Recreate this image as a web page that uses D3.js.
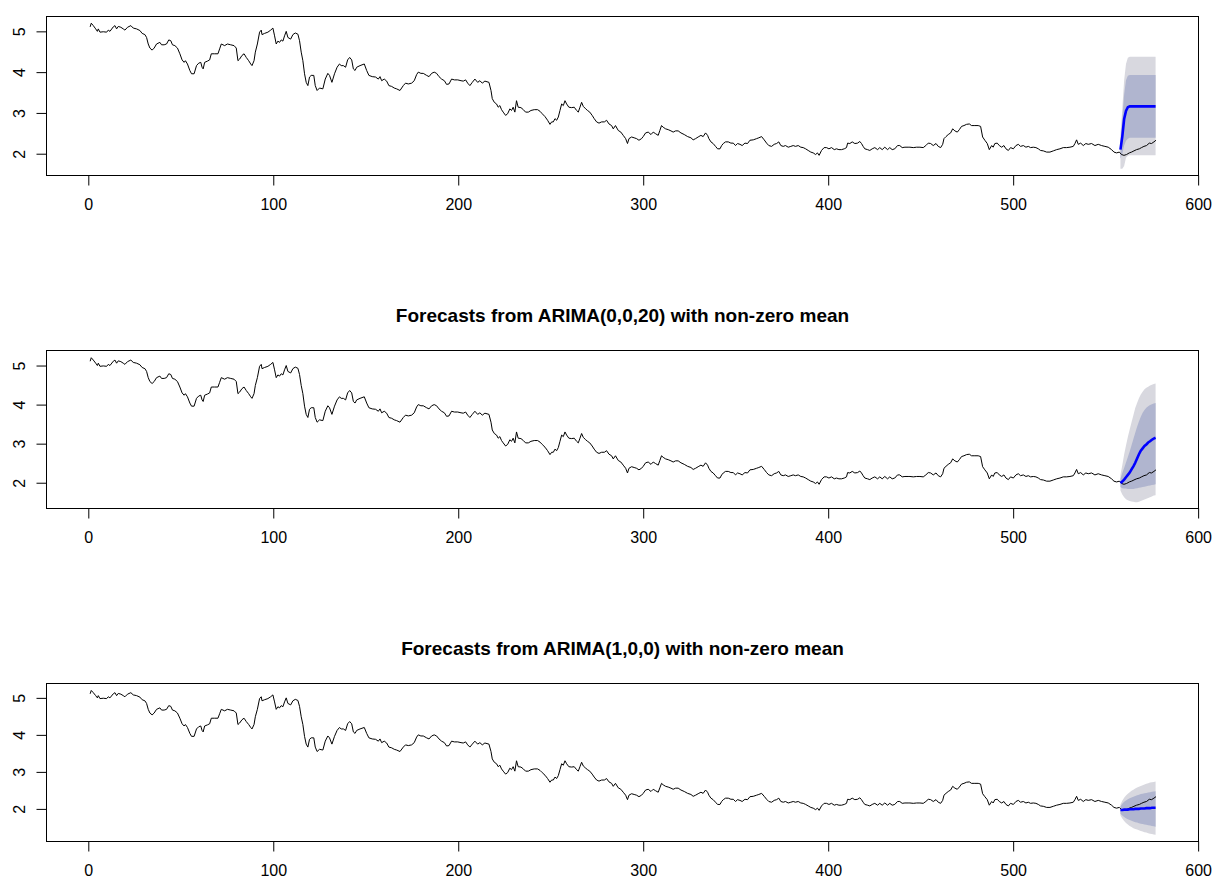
<!DOCTYPE html>
<html>
<head>
<meta charset="utf-8">
<script src="https://d3js.org/d3.v7.min.js"></script>
<style>
  body { margin: 0; background: #fff; }
  svg text { font-family: "Liberation Sans", Arial, sans-serif; }
</style>
</head>
<body>
<script>
var obsSeg1 = [[1,5.11],[1.6,5.20],[2.7,5.14],[4.0,5.06],[4.9,5.00],[5.4,5.06],[6.3,4.98],[8.1,4.99],[9.9,4.98],[10.8,5.03],
  [11.7,5.00],[13.5,5.11],[14.4,5.14],[15.3,5.06],[16.2,5.12],[17.6,5.10],[18.9,5.06],[19.8,5.03],[21.2,5.10],[23.0,5.14],
  [24.3,5.08],[26.1,5.06],[27.9,5.02],[29.1,4.95],[30.6,4.92],[31.5,4.85],[32.4,4.69],[33.3,4.59],[34.5,4.54],[35.6,4.59],
  [36.9,4.69],[38.7,4.73],[39.6,4.67],[41.0,4.67],[42.3,4.69],[43.5,4.79],[44.6,4.77],[45.5,4.67],[46.8,4.65],[48.2,4.59],
  [49.5,4.45],[50.7,4.30],[51.8,4.24],[52.5,4.28],[53.6,4.20],[54.9,4.04],[55.8,3.96],[57.2,3.96],[58.5,4.16],[59.7,4.22],
  [60.8,4.24],[61.5,4.12],[62.1,4.08],[62.9,4.24],[64.4,4.27],[65.6,4.30],[66.5,4.45],[68.3,4.45],[70.1,4.45],[71.0,4.57],
  [71.9,4.69],[73.7,4.65],[75.2,4.69],[77.0,4.67],[78.8,4.65],[80.0,4.59],[80.9,4.28],[81.8,4.32],[83.1,4.41],[84.2,4.45],
  [85.4,4.36],[86.7,4.28],[87.8,4.20],[88.5,4.16],[89.6,4.28],[90.3,4.49],[91.4,4.69],[92.6,4.98],[93.5,5.03],[93.9,4.92],
  [95.3,4.95],[97.1,4.98],[98.6,5.03],[99.8,5.08],[100.7,4.89],[101.6,4.69],[102.5,4.76],[103.4,4.73],[104.3,4.79],[105.2,4.76],
  [106.1,4.89],[107.0,5.00],[107.9,4.85],[109.4,4.81],[110.6,4.92],[111.9,4.96],[113.3,4.93],[114.2,4.77],[115.1,4.49],[116.0,4.28],
  [116.9,3.96],[117.8,3.75],[118.7,3.67],[119.6,3.88],[120.5,3.92],[121.9,3.92],[122.7,3.67],[123.7,3.55],[125.0,3.61],[126.8,3.59],
  [128.1,3.83],[129.5,3.97],[130.4,3.92],[131.7,3.75],[133.1,3.96],[134.5,4.12],[135.8,4.20],[136.7,4.16]];

var obsSeg2 = [[137.9,4.16],[139.1,4.12],[140.2,4.30],[141.3,4.36],[142.4,4.30],[143.3,4.08],[144.2,4.04],[145.1,4.12],[146.9,4.16],[149.2,4.20],
  [150.5,4.04],[151.7,3.92],[153.5,3.89],[155.3,3.88],[156.8,3.83],[157.7,3.89],[158.6,3.79],[160.0,3.83],[161.3,3.78],[162.5,3.67],
  [164.0,3.65],[165.4,3.61],[166.7,3.59],[168.5,3.55],[170.3,3.67],[171.5,3.73],[173.0,3.71],[174.8,3.73],[176.2,3.79],[177.5,3.94],
  [178.4,4.00],[179.8,3.97],[181.1,3.97],[182.9,3.92],[184.2,3.89],[185.6,3.97],[187.0,4.00],[188.3,3.97],[189.6,3.89],[191.0,3.83],
  [192.5,3.79],[193.7,3.70],[195.0,3.71],[196.4,3.83],[197.9,3.81],[199.7,3.81],[201.5,3.79],[202.7,3.78],[204.0,3.81],[205.1,3.73],
  [206.3,3.67],[207.6,3.75],[209.0,3.83],[210.5,3.75],[211.7,3.79],[213.0,3.73],[214.4,3.78],[216.6,3.75],[217.7,3.55],[218.4,3.35],
  [219.5,3.26],[220.7,3.22],[221.6,3.14],[222.5,3.18],[223.4,3.08],[224.3,3.02],[225.6,2.94],[226.7,2.98],[227.9,3.10],[228.8,3.06],
  [229.7,3.14],[230.6,3.02],[231.5,3.30],[232.4,3.14],[233.9,3.13],[235.2,3.08],[236.4,3.02],[237.9,3.02],[239.3,3.06],[241.1,3.08],
  [242.9,3.08],[244.2,3.04],[245.4,2.98],[246.9,2.91],[248.3,2.82],[249.6,2.72],[250.5,2.78],[251.4,2.78],[252.3,2.86],[253.2,2.82],
  [254.1,2.90],[255.0,3.06],[255.9,3.22],[256.8,3.18],[257.7,3.30],[258.6,3.22],[259.8,3.14],[261.3,3.13],[262.7,3.14],[264.0,3.06],
  [264.9,3.02],[265.8,3.14],[266.7,3.26],[267.6,3.16],[268.9,3.10],[269.9,3.06],[271.1,3.02],[272.4,2.94],[273.5,2.86],[274.8,2.78],
  [276.1,2.75],[277.5,2.78],[279.0,2.78],[280.2,2.82],[281.5,2.73],[282.9,2.69],[283.8,2.61],[285.0,2.69],[286.5,2.57],[287.9,2.53],
  [289.2,2.45],[290.5,2.37],[291.5,2.25],[292.3,2.37],[293.7,2.41],[295.1,2.39]];

var obsSeg3 = [[296.4,2.37],[297.7,2.33],[299.1,2.37],[300.0,2.42],[301.3,2.51],[302.7,2.53],[304.2,2.47],[305.4,2.53],[306.7,2.49],[308.1,2.45],
  [309.0,2.57],[309.9,2.69],[310.8,2.65],[312.1,2.61],[313.5,2.59],[315.0,2.56],[316.2,2.53],[317.5,2.56],[318.9,2.56],[320.4,2.51],
  [322.2,2.47],[324.0,2.42],[325.8,2.39],[327.0,2.34],[328.3,2.37],[329.7,2.41],[331.2,2.45],[332.4,2.42],[333.7,2.51],[334.8,2.45],
  [335.5,2.37],[336.6,2.29],[337.8,2.25],[339.1,2.18],[340.2,2.12],[341.5,2.12],[342.4,2.20],[343.3,2.25],[344.5,2.29],[346.0,2.29],
  [347.4,2.26],[348.7,2.26],[349.9,2.20],[351.0,2.25],[352.3,2.23],[353.5,2.20],[355.0,2.26],[356.4,2.25],[357.7,2.33],[359.5,2.34],
  [361.3,2.37],[362.5,2.39],[364.0,2.42],[365.4,2.34],[366.7,2.26],[367.9,2.20],[369.4,2.18],[370.8,2.23],[372.1,2.25],[373.3,2.29],
  [374.4,2.20],[375.7,2.18],[376.9,2.20],[378.4,2.16],[379.8,2.18],[381.1,2.20],[382.3,2.18],[383.8,2.20],[385.2,2.16],[386.5,2.15],
  [387.8,2.12],[389.2,2.08],[390.6,2.04],[391.9,2.02],[393.2,1.98],[394.2,2.02],[395.1,1.96],[396.4,2.08],[397.8,2.15],[399.1,2.15],
  [400.4,2.12],[401.8,2.15],[403.3,2.10],[404.5,2.12],[405.8,2.10],[407.2,2.10],[408.7,2.12],[409.9,2.15],[410.5,2.26],[411.7,2.25],
  [413.0,2.29],[414.4,2.25],[415.9,2.26],[417.1,2.30],[418.0,2.25],[418.9,2.18],[419.8,2.12],[421.3,2.10],[422.5,2.08],[423.8,2.12],
  [425.2,2.15],[426.7,2.10],[427.9,2.15],[429.2,2.10],[430.6,2.16],[432.1,2.10],[433.3,2.15],[434.6,2.10],[436.0,2.12],[437.5,2.20],
  [438.7,2.20],[440.0,2.15],[441.5,2.16],[443.2,2.16]];

var obsSeg4 = [[444.2,2.16],[446.0,2.15],[447.8,2.16],[449.6,2.16],[451.4,2.15],[452.8,2.20],[454.1,2.26],[455.4,2.25],[456.8,2.20],[458.3,2.25],
  [459.5,2.18],[460.8,2.15],[461.9,2.23],[462.6,2.37],[463.7,2.42],[464.9,2.47],[466.2,2.51],[467.3,2.61],[468.5,2.56],[469.8,2.53],
  [470.9,2.59],[472.1,2.67],[473.4,2.69],[474.8,2.72],[476.3,2.73],[477.5,2.69],[479.3,2.69],[481.1,2.69],[482.4,2.67],[483.5,2.41],
  [484.7,2.33],[486.0,2.25],[487.1,2.10],[488.4,2.20],[489.2,2.16],[490.1,2.25],[491.4,2.26],[492.5,2.20],[493.8,2.16],[495.0,2.20],
  [496.1,2.12],[497.4,2.08],[498.6,2.15],[500.1,2.12],[501.5,2.20],[502.8,2.23],[504.0,2.18],[505.5,2.20],[506.9,2.16],[508.2,2.18],
  [509.4,2.15],[510.9,2.16],[512.3,2.15],[513.6,2.12],[514.8,2.08],[516.3,2.07],[518.1,2.04],[519.9,2.04],[521.7,2.07],[523.5,2.10],
  [525.3,2.12],[527.1,2.15],[528.9,2.15],[530.7,2.16],[532.5,2.18],[533.4,2.25],[534.3,2.34],[535.2,2.23],[536.5,2.26],[537.9,2.20],
  [539.3,2.25],[540.6,2.23],[542.4,2.25],[544.2,2.20],[546.0,2.23],[547.8,2.20],[549.6,2.18],[551.4,2.16],[553.2,2.10],[554.5,2.04],
  [555.9,2.02],[557.4,2.04],[558.6,1.98],[559.9,1.96],[561.3,1.98],[562.8,2.02],[564.0,2.04],[565.3,2.07],[566.7,2.10],[568.2,2.12],
  [569.4,2.15],[570.7,2.18],[572.1,2.20],[573.6,2.26],[574.8,2.25],[576.1,2.29],[577.2,2.33]];

// forecast horizon
var forecastTime = [558,559,560,561,562,563,564,565,566,567,568,569,570,571,572,573,574,575,576,577];

// panel 1 (title is above the picture)
var fc1Mean = [2.10,2.42,2.85,3.05,3.14,3.16,3.16,3.16,3.16,3.16,3.16,3.16,3.16,3.16,3.16,3.16,3.16,3.16,3.16,3.16];
var fc1Lo95 = [1.63,1.63,1.70,1.90,1.95,1.96,1.96,1.96,1.96,1.96,1.96,1.96,1.96,1.96,1.96,1.96,1.96,1.96,1.96,1.96];
var fc1Lo80 = [1.88,2.00,2.20,2.32,2.37,2.39,2.39,2.39,2.39,2.39,2.39,2.39,2.39,2.39,2.39,2.39,2.39,2.39,2.39,2.39];
var fc1Hi80 = [2.30,2.85,3.45,3.80,3.91,3.93,3.93,3.93,3.93,3.93,3.93,3.93,3.93,3.93,3.93,3.93,3.93,3.93,3.93,3.93];
var fc1Hi95 = [2.45,3.10,3.80,4.20,4.35,4.38,4.38,4.38,4.38,4.38,4.38,4.38,4.38,4.38,4.38,4.38,4.38,4.38,4.38,4.38];

// panel 2: ARIMA(0,0,20)
var fc2Mean = [1.99,2.03,2.08,2.14,2.20,2.26,2.34,2.42,2.51,2.62,2.73,2.82,2.88,2.94,2.98,3.03,3.06,3.10,3.13,3.15];
var fc2Lo95 = [1.80,1.70,1.63,1.58,1.55,1.53,1.52,1.51,1.50,1.50,1.51,1.53,1.55,1.57,1.59,1.61,1.63,1.65,1.67,1.68];
var fc2Lo80 = [1.89,1.86,1.85,1.85,1.84,1.84,1.84,1.84,1.85,1.86,1.87,1.88,1.89,1.90,1.91,1.92,1.93,1.94,1.95,1.96];
var fc2Hi80 = [2.10,2.25,2.38,2.52,2.66,2.80,2.96,3.12,3.28,3.43,3.57,3.69,3.79,3.86,3.92,3.96,3.99,4.01,4.03,4.04];
var fc2Hi95 = [2.20,2.45,2.72,2.95,3.17,3.36,3.55,3.73,3.91,4.04,4.16,4.26,4.33,4.39,4.43,4.46,4.49,4.51,4.53,4.54];

// panel 3: ARIMA(1,0,0)
var fc3Mean = [1.97,1.97,1.98,1.98,1.98,1.99,1.99,1.99,2.00,2.00,2.00,2.01,2.01,2.01,2.02,2.02,2.02,2.03,2.03,2.03];
var fc3Lo95 = [1.82,1.74,1.67,1.62,1.58,1.54,1.51,1.48,1.46,1.44,1.42,1.40,1.39,1.37,1.36,1.34,1.33,1.32,1.31,1.30];
var fc3Lo80 = [1.87,1.82,1.78,1.75,1.72,1.70,1.68,1.66,1.64,1.63,1.61,1.60,1.59,1.58,1.57,1.56,1.55,1.54,1.53,1.52];
var fc3Hi80 = [2.07,2.14,2.19,2.23,2.26,2.29,2.31,2.33,2.35,2.37,2.38,2.40,2.41,2.42,2.43,2.44,2.45,2.46,2.47,2.48];
var fc3Hi95 = [2.12,2.22,2.30,2.36,2.41,2.45,2.49,2.52,2.55,2.58,2.60,2.62,2.64,2.66,2.68,2.69,2.71,2.72,2.73,2.74];

var panelTitles = [null,
  "Forecasts from ARIMA(0,0,20) with non-zero mean",
  "Forecasts from ARIMA(1,0,0) with non-zero mean"];

var xTicks = [0,100,200,300,400,500,600];
var yTicks = [2,3,4,5];

var observed = obsSeg1.concat(obsSeg2, obsSeg3, obsSeg4);

var forecasts = [
  {mean: fc1Mean, lo95: fc1Lo95, lo80: fc1Lo80, hi80: fc1Hi80, hi95: fc1Hi95},
  {mean: fc2Mean, lo95: fc2Lo95, lo80: fc2Lo80, hi80: fc2Hi80, hi95: fc2Hi95},
  {mean: fc3Mean, lo95: fc3Lo95, lo80: fc3Lo80, hi80: fc3Hi80, hi95: fc3Hi95}];

// plot boxes and y limits (R's 4% padding around data + intervals)
var boxes = [
  {top: 16.5,  bottom: 175.5, ylim: [1.466, 5.364]},
  {top: 350.5, bottom: 508.5, ylim: [1.34, 5.385]},
  {top: 683.5, bottom: 841.5, ylim: [1.119, 5.388]}];

var left = 46.5, right = 1198.5;

var svg = d3.select("body")
            .append("svg")
            .attr("width", 1215)
            .attr("height", 878);

var x = d3.scaleLinear().domain([-22.6, 600.2]).range([left, right]);

forecasts.forEach(function(fc, i){
	var box = boxes[i];
	var y = d3.scaleLinear().domain(box.ylim).range([box.bottom, box.top]);
	var g = svg.append("g");

	var rows = forecastTime.map(function(t, k){
		return {t: t, mean: fc.mean[k], lo95: fc.lo95[k], lo80: fc.lo80[k], hi80: fc.hi80[k], hi95: fc.hi95[k]};
	});

	function band(lo, hi){
		return d3.area()
		         .x(function(d){return x(d.t)})
		         .y0(function(d){return y(d[lo])})
		         .y1(function(d){return y(d[hi])});
	}

	g.append("path").datum(rows)
	 .attr("d", band("lo95", "hi95"))
	 .attr("fill", "#d8d8df");

	g.append("path").datum(rows)
	 .attr("d", band("lo80", "hi80"))
	 .attr("fill", "#b0b5cf");

	g.append("path").datum(observed)
	 .attr("d", d3.line().x(function(d){return x(d[0])}).y(function(d){return y(d[1])}))
	 .attr("fill", "none")
	 .attr("stroke", "#000")
	 .attr("stroke-width", 1);

	g.append("path").datum(rows)
	 .attr("d", d3.line().x(function(d){return x(d.t)}).y(function(d){return y(d.mean)}))
	 .attr("fill", "none")
	 .attr("stroke", "#0000ff")
	 .attr("stroke-width", 2.6);

	g.append("rect")
	 .attr("x", left).attr("y", box.top)
	 .attr("width", right - left).attr("height", box.bottom - box.top)
	 .attr("fill", "none")
	 .attr("stroke", "#000")
	 .attr("stroke-width", 1);

	var xAxis = g.append("g")
	             .attr("transform", "translate(0," + box.bottom + ")")
	             .call(d3.axisBottom(x).tickValues(xTicks).tickFormat(d3.format("d")).tickSize(10).tickPadding(13.5));
	xAxis.select(".domain").remove();

	var yAxis = g.append("g")
	             .attr("transform", "translate(" + left + ",0)")
	             .call(d3.axisLeft(y).tickValues(yTicks).tickFormat(d3.format("d")).tickSize(10));
	yAxis.select(".domain").remove();
	yAxis.selectAll("text")
	     .attr("x", null)
	     .attr("dy", null)
	     .attr("text-anchor", "middle")
	     .attr("transform", "translate(-21.5,0) rotate(-90)");

	g.selectAll(".tick line").attr("stroke", "#000");
	g.selectAll(".tick text")
	 .attr("fill", "#000")
	 .style("font-size", "16px")
	 .style("font-family", "'Liberation Sans', Arial, sans-serif");

	if(panelTitles[i]){
		g.append("text")
		 .attr("x", (left + right) / 2)
		 .attr("y", box.top - 28.5)
		 .attr("text-anchor", "middle")
		 .style("font-size", "19px")
		 .style("font-weight", "bold")
		 .text(panelTitles[i]);
	}
});
</script>
</body>
</html>
